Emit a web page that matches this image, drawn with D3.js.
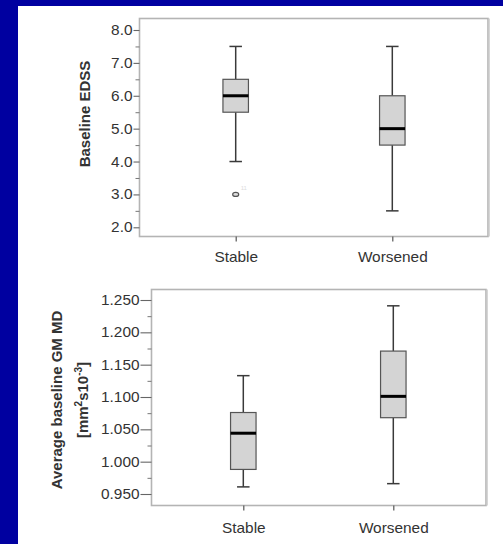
<!DOCTYPE html>
<html>
<head>
<meta charset="utf-8">
<script src="https://cdn.jsdelivr.net/npm/d3@7"></script>
<style>
  html, body { margin: 0; padding: 0; background: #0000a0; }
  svg { display: block; }
  text { font-family: "Liberation Sans", Arial, sans-serif; }
</style>
</head>
<body>
<svg id="chart" width="503" height="544"></svg>
<script>
// ---------- DATA ----------
const categories = ["Stable", "Worsened"];

// Panel 1: Baseline EDSS
const edssTicks = [2, 3, 4, 5, 6, 7, 8];
const edssMinorTicks = [2.5, 3.5, 4.5, 5.5, 6.5, 7.5];
const edssMin    = [4.0, 2.5];
const edssQ1     = [5.5, 4.5];
const edssMedian = [6.0, 5.0];
const edssQ3     = [6.5, 6.0];
const edssMax    = [7.5, 7.5];
const edssOutlierCats   = ["Stable"];
const edssOutlierValues = [3.0];
const edssOutlierLabels = ["11"];

// Panel 2: Average baseline GM MD
const mdTicks = [0.95, 1.0, 1.05, 1.10, 1.15, 1.20, 1.25];
const mdMinorTicks = [0.975, 1.025, 1.075, 1.125, 1.175, 1.225];
const mdMin    = [0.961, 0.966];
const mdQ1     = [0.988, 1.068];
const mdMedian = [1.044, 1.101];
const mdQ3     = [1.076, 1.171];
const mdMax    = [1.133, 1.241];

// ---------- DRAW ----------
const svg = d3.select("#chart");
svg.append("rect").attr("x", 0).attr("y", 0).attr("width", 503).attr("height", 544).attr("fill", "#0000a0");
svg.append("rect").attr("x", 18).attr("y", 6).attr("width", 485).attr("height", 538).attr("fill", "#ffffff");

const SX = 1.1; // horizontal stretch seen in the source text
const TXT = "#333";

function panel(cfg) {
  const g = svg.append("g");
  const y = d3.scaleLinear().domain(cfg.domain).range(cfg.yRange);
  const x = d3.scalePoint().domain(categories).range(cfg.xRange);

  // frame
  g.append("rect")
    .attr("x", cfg.frame[0]).attr("y", cfg.frame[1])
    .attr("width", cfg.frame[2] - cfg.frame[0])
    .attr("height", cfg.frame[3] - cfg.frame[1])
    .attr("fill", "none").attr("stroke", "#b4b4b4").attr("stroke-width", 1.6);
  g.append("line")
    .attr("x1", cfg.frame[2] + 1).attr("x2", cfg.frame[2] + 1)
    .attr("y1", cfg.frame[1]).attr("y2", cfg.frame[3])
    .attr("stroke", "#c8c8c8").attr("stroke-width", 1.5);

  // minor ticks
  const minorAxis = d3.axisLeft(y).tickValues(cfg.minor).tickSize(cfg.minorLen).tickFormat("");
  const gm = g.append("g").attr("transform", `translate(${cfg.frame[0]},0)`).call(minorAxis);
  gm.select(".domain").remove();
  gm.selectAll("line").attr("stroke", "#777").attr("stroke-width", 1);

  // major ticks
  const axis = d3.axisLeft(y).tickValues(cfg.ticks).tickSize(cfg.majorLen).tickPadding(2)
    .tickFormat(d3.format(cfg.fmt));
  const ga = g.append("g").attr("transform", `translate(${cfg.frame[0]},0)`).call(axis);
  ga.select(".domain").remove();
  ga.selectAll("line").attr("stroke", "#666").attr("stroke-width", 1.1);
  ga.selectAll("text")
    .attr("font-size", 14).attr("fill", TXT)
    .attr("font-family", "Liberation Sans, Arial, sans-serif")
    .attr("transform", `scale(${SX},1)`)
    .attr("x", -(cfg.majorLen + 1) / SX);

  // x ticks and labels
  const xa = d3.axisBottom(x).tickSize(5).tickPadding(11);
  const gx = g.append("g").attr("transform", `translate(0,${cfg.frame[3]})`).call(xa);
  gx.select(".domain").remove();
  gx.selectAll("line").attr("stroke", "#555").attr("stroke-width", 1.2);
  gx.selectAll("text")
    .attr("font-size", 14).attr("fill", TXT)
    .attr("font-family", "Liberation Sans, Arial, sans-serif")
    .attr("dy", null).attr("y", cfg.catLabelY - cfg.frame[3])
    .attr("x", 0)
    .attr("transform", `scale(${SX},1)`);

  // boxes
  const bw = 25.5, cap = 12.5;
  categories.forEach((c, i) => {
    const cx = x(c);
    const bg = g.append("g");
    // whiskers
    bg.append("line").attr("x1", cx).attr("x2", cx).attr("y1", y(cfg.max[i])).attr("y2", y(cfg.q3[i]))
      .attr("stroke", "#3a3a3a").attr("stroke-width", 1.5);
    bg.append("line").attr("x1", cx).attr("x2", cx).attr("y1", y(cfg.q1[i])).attr("y2", y(cfg.min[i]))
      .attr("stroke", "#3a3a3a").attr("stroke-width", 1.5);
    bg.append("line").attr("x1", cx - cap / 2).attr("x2", cx + cap / 2).attr("y1", y(cfg.max[i])).attr("y2", y(cfg.max[i]))
      .attr("stroke", "#3a3a3a").attr("stroke-width", 1.5);
    bg.append("line").attr("x1", cx - cap / 2).attr("x2", cx + cap / 2).attr("y1", y(cfg.min[i])).attr("y2", y(cfg.min[i]))
      .attr("stroke", "#3a3a3a").attr("stroke-width", 1.5);
    // box
    bg.append("rect").attr("x", cx - bw / 2).attr("y", y(cfg.q3[i]))
      .attr("width", bw).attr("height", y(cfg.q1[i]) - y(cfg.q3[i]))
      .attr("fill", "#d4d4d4").attr("stroke", "#555").attr("stroke-width", 1.2);
    // median
    bg.append("line").attr("x1", cx - bw / 2).attr("x2", cx + bw / 2)
      .attr("y1", y(cfg.median[i])).attr("y2", y(cfg.median[i]))
      .attr("stroke", "#000").attr("stroke-width", 3);
  });

  // outliers
  (cfg.outCats || []).forEach((c, i) => {
    const ox = x(c), oy = y(cfg.outVals[i]);
    g.append("ellipse").attr("cx", ox).attr("cy", oy).attr("rx", 3).attr("ry", 2)
      .attr("fill", "#ddd").attr("stroke", "#555").attr("stroke-width", 1.2);
    g.append("text").attr("x", ox + 5).attr("y", oy - 4)
      .attr("font-size", 6).attr("fill", "#ddd").text(cfg.outLabels[i]);
  });
  return g;
}

panel({
  domain: [2, 8], yRange: [227.3, 30], xRange: [235.7, 392.3],
  frame: [139.5, 18.5, 488, 236.5],
  ticks: edssTicks, minor: edssMinorTicks, fmt: ".1f",
  majorLen: 6, minorLen: 4, catLabelY: 262,
  min: edssMin, q1: edssQ1, median: edssMedian, q3: edssQ3, max: edssMax,
  outCats: edssOutlierCats, outVals: edssOutlierValues, outLabels: edssOutlierLabels
});

panel({
  domain: [0.95, 1.25], yRange: [494, 300], xRange: [243.3, 393.3],
  frame: [151.5, 289.5, 486, 505.5],
  ticks: mdTicks, minor: mdMinorTicks, fmt: ".3f",
  majorLen: 11, minorLen: 4, catLabelY: 533,
  min: mdMin, q1: mdQ1, median: mdMedian, q3: mdQ3, max: mdMax
});

// Y axis titles
svg.append("text")
  .attr("transform", "translate(90,114) rotate(-90)")
  .attr("text-anchor", "middle")
  .attr("font-size", 15).attr("font-weight", "bold").attr("fill", TXT)
  .text("Baseline EDSS");

svg.append("text")
  .attr("transform", "translate(62,400) rotate(-90)")
  .attr("text-anchor", "middle")
  .attr("font-size", 15).attr("font-weight", "bold").attr("fill", TXT)
  .text("Average baseline GM MD");

const unit = svg.append("text")
  .attr("transform", "translate(88,400) rotate(-90)")
  .attr("text-anchor", "middle")
  .attr("font-size", 15).attr("font-weight", "bold").attr("fill", TXT);
unit.append("tspan").text("[mm");
unit.append("tspan").attr("font-size", 10).attr("dy", -6).text("2");
unit.append("tspan").attr("dy", 6).text("s10");
unit.append("tspan").attr("font-size", 10).attr("dy", -6).text("-3");
unit.append("tspan").attr("dy", 6).text("]");
</script>
</body>
</html>
